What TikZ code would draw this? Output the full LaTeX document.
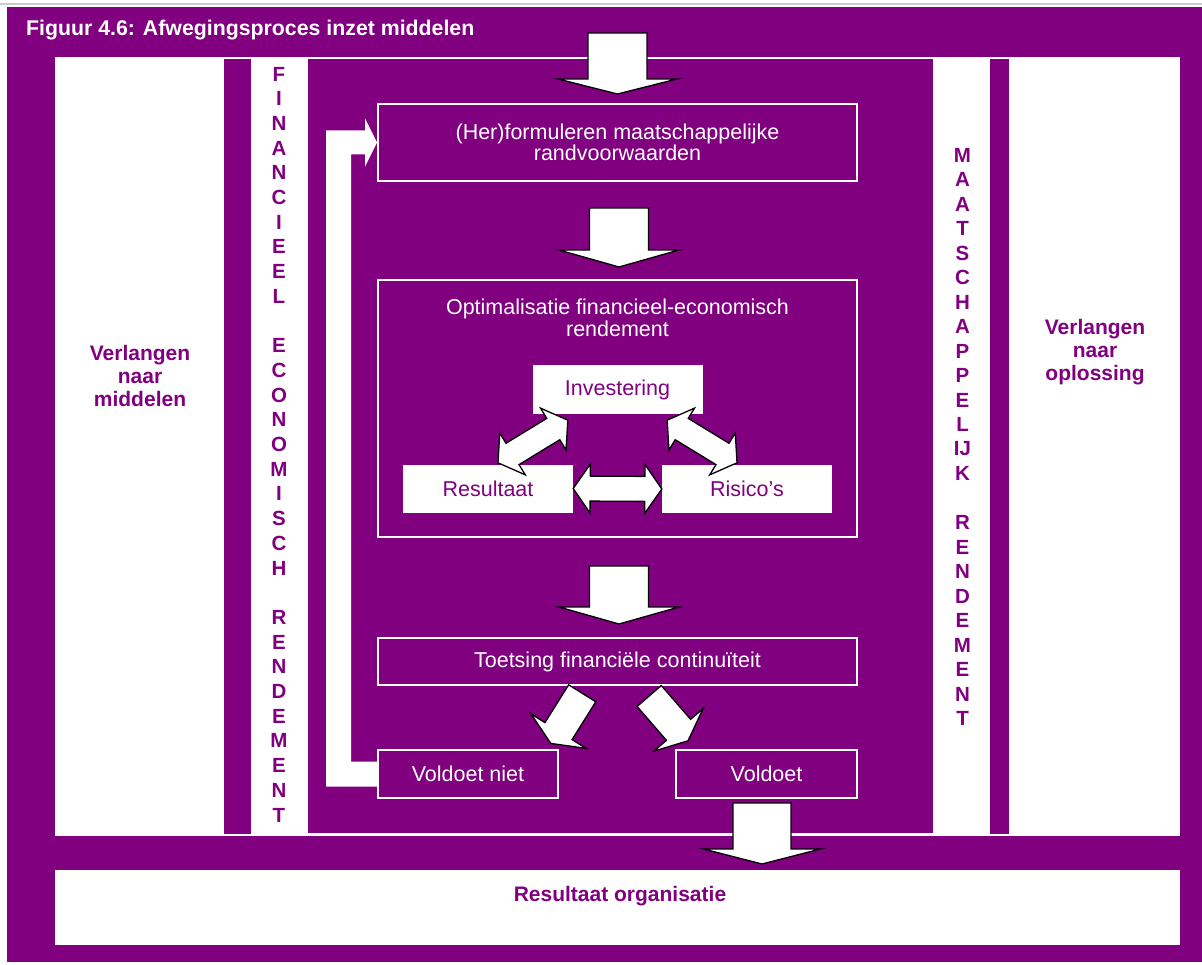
\documentclass[tikz,border=0pt]{standalone}
\usepackage{fontspec}
\setmainfont{Liberation Sans}
\usetikzlibrary{calc}

\definecolor{paars}{RGB}{128,0,128}
\definecolor{grijs}{RGB}{205,205,205}

% blokpijl: staart, punt, halve schacht, halve kop, koplengte
\newcommand{\blokpijl}[5]{%
  \coordinate (bp-k) at ($(#2)!#5!(#1)$);
  \draw[pijl] ($(#1)!#3!90:(#2)$) -- ($(bp-k)!#3!-90:(#1)$) -- ($(bp-k)!#4!-90:(#1)$) -- (#2)
     -- ($(bp-k)!#4!90:(#1)$) -- ($(bp-k)!#3!90:(#1)$) -- ($(#1)!#3!-90:(#2)$) -- cycle;
}
% dubbelpijl: punt a, punt b, halve schacht, halve kop, koplengte
\newcommand{\dubbelpijl}[5]{%
  \coordinate (dp-a) at ($(#1)!#5!(#2)$);
  \coordinate (dp-b) at ($(#2)!#5!(#1)$);
  \draw[pijl] (#1) -- ($(dp-a)!#4!90:(#2)$) -- ($(dp-a)!#3!90:(#2)$) -- ($(dp-b)!#3!-90:(#1)$)
     -- ($(dp-b)!#4!-90:(#1)$) -- (#2) -- ($(dp-b)!#4!90:(#1)$) -- ($(dp-b)!#3!90:(#1)$)
     -- ($(dp-a)!#3!-90:(#2)$) -- ($(dp-a)!#4!-90:(#2)$) -- cycle;
}

\begin{document}
\begin{tikzpicture}[x=1pt, y=-1pt,
   kader/.style={draw=white, line width=2pt, fill=paars, text=white, align=center,
                 inner sep=0pt, font=\fontsize{21.5}{21.5}\selectfont},
   witvak/.style={fill=white, text=paars, inner sep=0pt, minimum width=170pt,
                 minimum height=48pt, font=\fontsize{21.5}{21.5}\selectfont},
   letter/.style={text=paars, inner sep=0pt, font=\bfseries\fontsize{20.5}{20.5}\selectfont},
   zijtekst/.style={text=paars, align=center, inner sep=0pt, font=\bfseries\fontsize{21}{23}\selectfont},
   pijl/.style={draw=black, fill=white, line width=1.3pt, line join=miter},
   terug/.style={fill=white}]

\useasboundingbox (0,0) rectangle (1202,965);

% achtergrond en panelen
\fill[paars] (7,7) rectangle (1202,962);
\draw[grijs, line width=2pt] (0,4) -- (1202,4);
\fill[white] (55,57) rectangle (1180,836);
\fill[paars] (224,59) rectangle (251,834);
\fill[paars] (308,59) rectangle (933,833);
\fill[paars] (990,59) rectangle (1009,834);
\fill[white] (55,870) rectangle (1180,945);

\node[anchor=base west, text=white, inner sep=0pt, font=\bfseries\fontsize{21.3}{21.3}\selectfont]
   (titel) at (26,36) {Figuur 4.6: Afwegingsproces inzet middelen};

\node[zijtekst] (middelen) at (140,376) {Verlangen\\naar\\middelen};
\node[zijtekst] (oplossing) at (1095,352) {Verlangen\\naar\\oplossing};
\node[zijtekst] (organisatie) at (620,896) {Resultaat organisatie};

% verticale teksten
\foreach \l [count=\i] in {F,I,N,A,N,C,I,E,E,L,,E,C,O,N,O,M,I,S,C,H,,R,E,N,D,E,M,E,N,T}
   \node[letter] (fin-\i) at (279,{74+(\i-1)*24.7}) {\l};
\foreach \l [count=\i] in {M,A,A,T,S,C,H,A,P,P,E,L,IJ,K,,R,E,N,D,E,M,E,N,T}
   \node[letter] (maat-\i) at (962.5,{155+(\i-1)*24.5}) {\l};

% processtappen
\node[kader, minimum width=479pt, minimum height=77pt] (formuleren) at (617.5,142.5)
   {(Her)formuleren maatschappelijke\\randvoorwaarden};
\node[kader, minimum width=479pt, minimum height=257pt] (optimalisatie) at (617.5,408.5) {};
\node[text=white, align=center, inner sep=0pt, font=\fontsize{21.5}{22.5}\selectfont]
   (opttekst) at (617.5,318) {Optimalisatie financieel-economisch\\rendement};
\node[witvak] (investering) at (617.5,389.5) {Investering};
\node[witvak] (resultaat) at (488,488.5) {Resultaat};
\node[witvak] (risicos) at (747,489) {Risico’s};
\node[kader, minimum width=479pt, minimum height=47pt] (toetsing) at (617.5,661.5)
   {Toetsing financiële continuïteit};
\node[kader, minimum width=180pt, minimum height=48pt] (niet) at (468,774) {Voldoet niet};
\node[kader, minimum width=181pt, minimum height=48pt] (voldoet) at (766.5,774) {Voldoet};

% terugkoppeling
\fill[terug] ($(niet.west)+(0,12.5)$) -| ($(formuleren.west)+(-51,-12)$)
   -- ($(formuleren.west)+(-12,-12)$) -- ($(formuleren.west)+(-12,-24)$) -- (formuleren.west)
   -- ($(formuleren.west)+(-12,24)$) -- ($(formuleren.west)+(-12,12)$)
   -| ($(niet.west)+(-26,-12.5)$) -- ($(niet.west)+(0,-12.5)$) -- cycle;

% pijlen
\coordinate (in) at (617.5,33);
\coordinate (in-punt) at ($(formuleren.north)+(0,-9)$);
\coordinate (f-staart) at ($(formuleren.south)+(1.5,26)$);
\coordinate (f-punt) at ($(optimalisatie.north)+(1.5,-12)$);
\coordinate (o-staart) at ($(optimalisatie.south)+(1.5,28)$);
\coordinate (o-punt) at ($(toetsing.north)+(1.5,-13)$);
\coordinate (t-links) at ($(toetsing.south)+(-35.3,7.3)$);
\coordinate (n-punt) at ($(niet.north east)+(-8.2,-5.6)$);
\coordinate (t-rechts) at ($(toetsing.south)+(31.7,10)$);
\coordinate (v-punt) at ($(voldoet.north west)+(13,-8.2)$);
\coordinate (v-staart) at ($(voldoet.south)+(-4.5,4)$);
\coordinate (uit) at ($(voldoet.south)+(-4.5,65)$);

\blokpijl{in}{in-punt}{29.5pt}{59.5pt}{15pt}
\blokpijl{f-staart}{f-punt}{29.5pt}{60pt}{17pt}
\blokpijl{o-staart}{o-punt}{29.5pt}{60pt}{17pt}
\blokpijl{t-links}{n-punt}{16pt}{32.5pt}{14.5pt}
\blokpijl{t-rechts}{v-punt}{16pt}{32.5pt}{14.5pt}
\blokpijl{v-staart}{uit}{29pt}{58.5pt}{15pt}

\coordinate (i-links) at ($(investering.south west)+(35.5,6.5)$);
\coordinate (r-boven) at ($(resultaat.north)+(10,-1.5)$);
\coordinate (i-rechts) at ($(investering.south east)+(-35.5,6.5)$);
\coordinate (k-boven) at ($(risicos.north)+(-10,-2)$);

\dubbelpijl{resultaat.east}{risicos.west}{12.5pt}{24.5pt}{17pt}
\dubbelpijl{r-boven}{i-links}{12.5pt}{24.5pt}{17pt}
\dubbelpijl{i-rechts}{k-boven}{12.5pt}{24.5pt}{17pt}

\end{tikzpicture}
\end{document}
